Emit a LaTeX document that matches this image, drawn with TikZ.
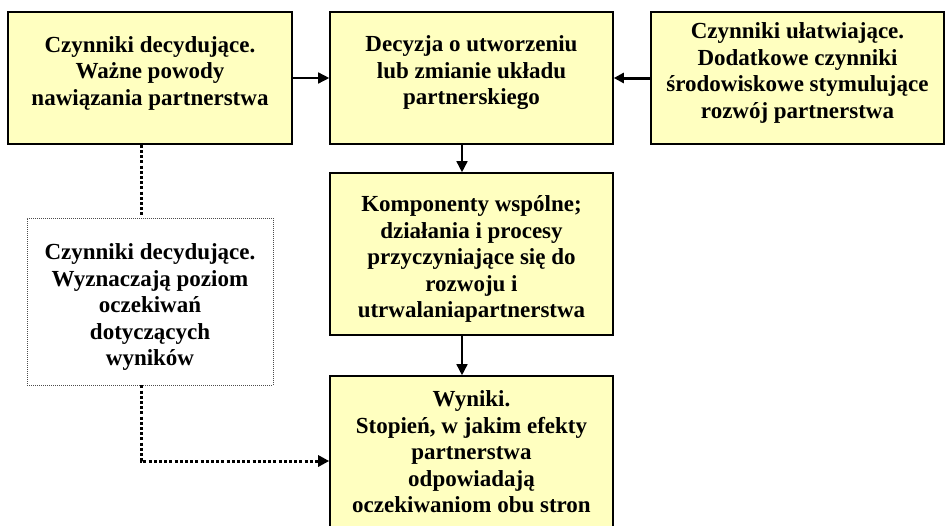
\documentclass[tikz,border=0pt]{standalone}
\usepackage{fontspec}
\setmainfont{Liberation Serif}
\usetikzlibrary{arrows.meta}
\definecolor{boxfill}{HTML}{FFFFC0}
\begin{document}
\begin{tikzpicture}[x=1pt,y=-1pt,
  ybox/.style={draw=black,line width=1.6pt,fill=boxfill,inner sep=0pt},
  dbox/.style={draw=black!70,line width=0.9pt,dash pattern=on 1pt off 1pt,inner sep=0pt},
  txt/.style={align=center,font=\fontsize{23}{26.5}\selectfont\bfseries,inner sep=0pt},
  arr/.style={line width=1.5pt,-{Triangle[length=11pt,width=11pt]}},
  arrthick/.style={line width=3pt,-{Triangle[length=10pt,width=10pt]}},
  dotline/.style={line width=3pt,dash pattern=on 3pt off 2.2pt},
  dotarr/.style={dotline,-{Triangle[length=11pt,width=11pt]}}]
\useasboundingbox (0,0) rectangle (945,525);
\fill[white] (0,0) rectangle (945,525);
% boxes
\node[ybox,minimum width=284pt,minimum height=132pt] (b1) at (150,78) {};
\node[ybox,minimum width=283pt,minimum height=132pt] (b2) at (471.5,78) {};
\node[ybox,minimum width=293pt,minimum height=132pt] (b3) at (797.5,78) {};
\node[ybox,minimum width=283pt,minimum height=162pt] (b4) at (471.5,254) {};
\node[ybox,minimum width=283pt,minimum height=170pt] (b5) at (471.5,461) {};
\node[dbox,minimum width=246pt,minimum height=167pt] (b6) at (150,301.5) {};
% texts
\node[txt] (t1) at (150,73) {Czynniki decydujące.\\Ważne powody\\nawiązania partnerstwa};
\node[txt] (t2) at (471.5,73) {Decyzja o utworzeniu\\lub zmianie układu\\partnerskiego};
\node[txt] (t3) at (797.5,73) {Czynniki ułatwiające.\\Dodatkowe czynniki\\środowiskowe stymulujące\\rozwój partnerstwa};
\node[txt] (t4) at (471.5,259) {Komponenty wspólne;\\działania i procesy\\przyczyniające się do\\rozwoju i\\utrwalaniapartnerstwa};
\node[txt] (t5) at (471.5,452) {Wyniki.\\Stopień, w jakim efekty\\partnerstwa\\odpowiadają\\oczekiwaniom obu stron};
\node[txt] (t6) at (150,307) {Czynniki decydujące.\\Wyznaczają poziom\\oczekiwań\\dotyczących\\wyników};
% connectors
\draw[arr] (b1.east) -- (b2.west);
\draw[arrthick] (b3.west) -- (b2.east);
\draw[arr] ([xshift=-9.5pt]b2.south) -- ([xshift=-9.5pt]b4.north);
\draw[arr] ([xshift=-9.5pt]b4.south) -- ([xshift=-9.5pt]b5.north);
\draw[dotline] ([xshift=-9pt]b1.south) -- ([xshift=-9pt]b6.north);
\coordinate (c1) at ([xshift=-9pt]b6.south |- b5.west);
\draw[dotarr] ([xshift=-9pt]b6.south) -- (c1) -- (b5.west);
\end{tikzpicture}
\end{document}
